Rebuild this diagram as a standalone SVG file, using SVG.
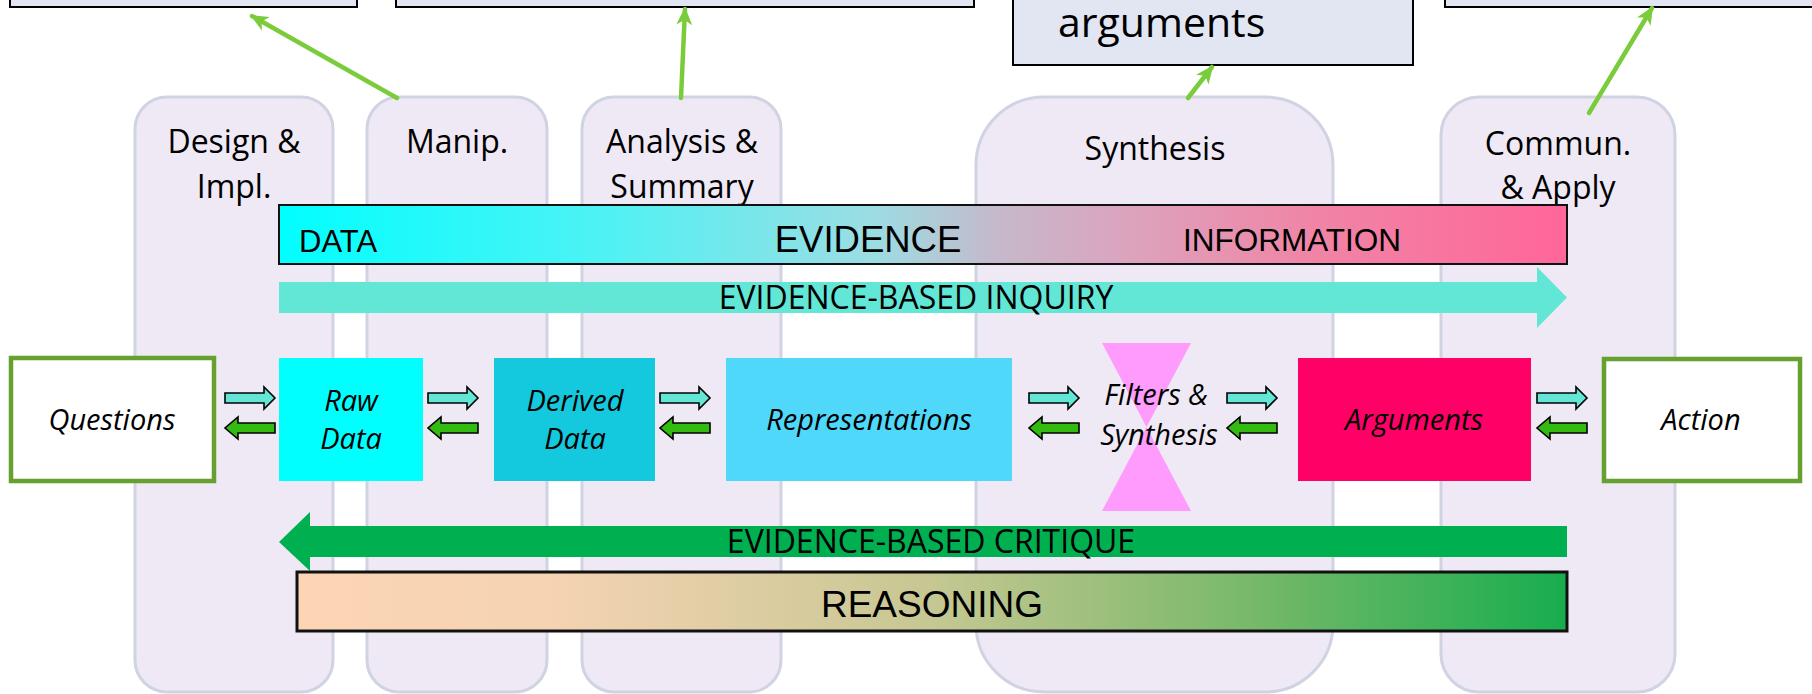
<svg xmlns="http://www.w3.org/2000/svg" width="1812" height="694" viewBox="0 0 1812 694">
  <style>
    .pill { fill: #eee9f4; stroke: #d0d3e2; stroke-width: 3; }
    .plabel { font-family: "Open Sans", "Liberation Sans", sans-serif; font-size: 32px; fill: #000; text-anchor: middle; }
    .topbox { fill: #e1e6f2; stroke: #000; stroke-width: 2; }
    .bar { stroke: #111; stroke-width: 2; }
    .caps { font-family: "Liberation Sans", Arial, sans-serif; fill: #000; }
    .flow { font-family: "Open Sans", "Liberation Sans", sans-serif; font-size: 32px; fill: #000; text-anchor: middle; }
    .ital { font-family: "Open Sans", "Liberation Sans", sans-serif; font-style: italic; font-size: 29px; fill: #000; text-anchor: middle; }
    .link { fill: none; stroke: #7acc3a; stroke-width: 4.5; stroke-linecap: round; }
    .fwd { fill: #63e6d6; stroke: #000; stroke-width: 1.6; stroke-linejoin: miter; }
    .back { fill: #33bb11; stroke: #000; stroke-width: 1.6; stroke-linejoin: miter; }
    .endbox { fill: #fff; stroke: #66a02e; stroke-width: 4.5; }
  </style>
  <defs>
    <linearGradient id="gEvidence" x1="0" y1="0" x2="1" y2="0">
      <stop offset="0" stop-color="#00ffff"/>
      <stop offset="0.25" stop-color="#4ef2f4"/>
      <stop offset="0.46" stop-color="#9bdde3"/>
      <stop offset="0.56" stop-color="#c6b8ca"/>
      <stop offset="0.66" stop-color="#dca3bd"/>
      <stop offset="0.8" stop-color="#f085a6"/>
      <stop offset="1" stop-color="#ff6699"/>
    </linearGradient>
    <linearGradient id="gReason" x1="0" y1="0" x2="1" y2="0">
      <stop offset="0" stop-color="#fcd5b5"/>
      <stop offset="0.2" stop-color="#f5d3b3"/>
      <stop offset="0.5" stop-color="#c6c792"/>
      <stop offset="0.75" stop-color="#78b96a"/>
      <stop offset="1" stop-color="#18ad4e"/>
    </linearGradient>
    <marker id="head" markerUnits="userSpaceOnUse" viewBox="0 0 18 16" markerWidth="18" markerHeight="16" refX="16" refY="8" orient="auto">
      <path d="M0,0 L18,8 L0,16 L5,8 Z" fill="#7acc3a"/>
    </marker>
    <!-- small block arrows used between the flow boxes -->
    <path id="arrowR" class="fwd" d="M0,-5 H39 V-11 L50,0 L39,11 V5 H0 Z"/>
    <path id="arrowL" class="back" d="M50,-5 H13 V-11 L0,0 L13,11 V5 H50 Z"/>
  </defs>

  <!-- stage columns -->
  <g id="col-design">
    <rect class="pill" x="135" y="97" width="198" height="595" rx="32"/>
    <text class="plabel" x="234" y="153">Design &amp;</text>
    <text class="plabel" x="234" y="198">Impl.</text>
  </g>
  <g id="col-manip">
    <rect class="pill" x="367" y="97" width="180" height="595" rx="32"/>
    <text class="plabel" x="457" y="153">Manip.</text>
  </g>
  <g id="col-analysis">
    <rect class="pill" x="582" y="97" width="199" height="595" rx="32"/>
    <text class="plabel" x="682" y="153">Analysis &amp;</text>
    <text class="plabel" x="682" y="198">Summary</text>
  </g>
  <g id="col-synthesis">
    <rect class="pill" x="976" y="97" width="357" height="595" rx="68"/>
    <text class="plabel" x="1155" y="160">Synthesis</text>
  </g>
  <g id="col-commun">
    <rect class="pill" x="1441" y="97" width="234" height="595" rx="38"/>
    <text class="plabel" x="1558" y="155">Commun.</text>
    <text class="plabel" x="1558" y="199">&amp; Apply</text>
  </g>

  <!-- boxes along the top edge -->
  <g id="top-1"><rect class="topbox" x="10" y="-20" width="347" height="27"/></g>
  <g id="top-2"><rect class="topbox" x="396" y="-20" width="578" height="27"/></g>
  <g id="top-3">
    <rect class="topbox" x="1013" y="-20" width="400" height="85"/>
    <text x="1058" y="37" font-family="Open Sans, Liberation Sans, sans-serif" font-size="41" fill="#000">arguments</text>
  </g>
  <g id="top-4"><rect class="topbox" x="1445" y="-20" width="380" height="27"/></g>

  <!-- evidence band -->
  <g id="evidence">
    <rect class="bar" x="279" y="205" width="1288" height="59" fill="url(#gEvidence)"/>
    <text class="caps" x="299" y="252" font-size="31">DATA</text>
    <text class="caps" x="868" y="252" font-size="36.5" text-anchor="middle">EVIDENCE</text>
    <text class="caps" x="1292" y="251" font-size="31.5" text-anchor="middle">INFORMATION</text>
  </g>

  <!-- inquiry arrow -->
  <g id="inquiry">
    <path d="M279,282 H1537 V267 L1567,297.5 L1537,328 V313 H279 Z" fill="#62e6d6"/>
    <text class="flow" x="916" y="309">EVIDENCE-BASED INQUIRY</text>
  </g>

  <!-- flow nodes -->
  <g id="questions">
    <rect class="endbox" x="11" y="358" width="203" height="123"/>
    <text class="ital" x="112" y="430">Questions</text>
  </g>
  <g id="raw-data">
    <rect x="279" y="358" width="144" height="123" fill="#00ffff"/>
    <text class="ital" x="351" y="411">Raw</text>
    <text class="ital" x="351" y="449">Data</text>
  </g>
  <g id="derived-data">
    <rect x="494" y="358" width="161" height="123" fill="#14c9dd"/>
    <text class="ital" x="575" y="411">Derived</text>
    <text class="ital" x="575" y="449">Data</text>
  </g>
  <g id="representations">
    <rect x="726" y="358" width="286" height="123" fill="#50d8fb"/>
    <text class="ital" x="869" y="430">Representations</text>
  </g>
  <g id="filters">
    <path d="M1102,343 H1191 L1102,511 H1191 Z" fill="#fe9bfc"/>
    <text class="ital" x="1156" y="405">Filters &amp;</text>
    <text class="ital" x="1159" y="445">Synthesis</text>
  </g>
  <g id="arguments">
    <rect x="1298" y="358" width="233" height="123" fill="#ff0066"/>
    <text class="ital" x="1414" y="430">Arguments</text>
  </g>
  <g id="action">
    <rect class="endbox" x="1604" y="359" width="196" height="122"/>
    <text class="ital" x="1701" y="430">Action</text>
  </g>

  <!-- critique arrow -->
  <g id="critique">
    <path d="M1567,526 H310 V512 L279,542 L310,571 V557 H1567 Z" fill="#00b050"/>
    <text class="flow" x="931" y="553">EVIDENCE-BASED CRITIQUE</text>
  </g>

  <!-- reasoning band -->
  <g id="reasoning">
    <rect x="297" y="572" width="1270" height="59" fill="url(#gReason)" stroke="#111" stroke-width="3"/>
    <text class="caps" x="932" y="617" font-size="37" text-anchor="middle">REASONING</text>
  </g>

  <!-- connectors -->
  <g id="connectors">
    <use href="#arrowR" x="225" y="398"/>
    <use href="#arrowL" x="225" y="428"/>
    <use href="#arrowR" x="428" y="398"/>
    <use href="#arrowL" x="428" y="428"/>
    <use href="#arrowR" x="660" y="398"/>
    <use href="#arrowL" x="660" y="428"/>
    <use href="#arrowR" x="1029" y="398"/>
    <use href="#arrowL" x="1029" y="428"/>
    <use href="#arrowR" x="1227" y="398"/>
    <use href="#arrowL" x="1227" y="428"/>
    <use href="#arrowR" x="1537" y="398"/>
    <use href="#arrowL" x="1537" y="428"/>

    <line class="link" x1="397" y1="98" x2="252" y2="16" marker-end="url(#head)"/>
    <line class="link" x1="681" y1="98" x2="685" y2="9" marker-end="url(#head)"/>
    <line class="link" x1="1188" y1="98" x2="1212" y2="67" marker-end="url(#head)"/>
    <line class="link" x1="1589" y1="113" x2="1652" y2="8" marker-end="url(#head)"/>
  </g>
</svg>
